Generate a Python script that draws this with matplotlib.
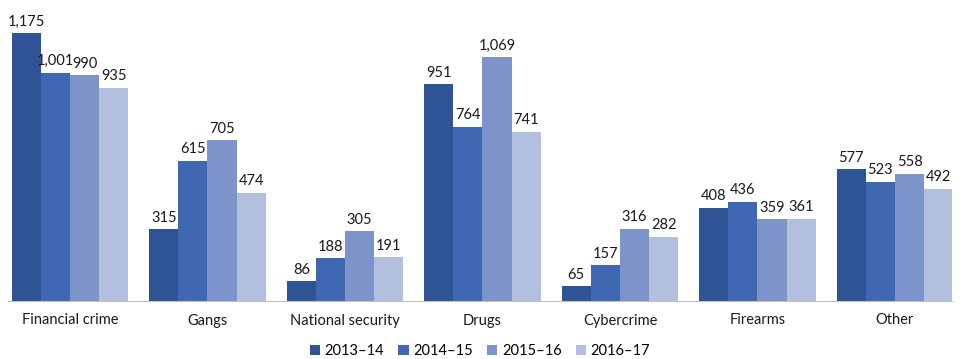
import numpy as np
import matplotlib
matplotlib.use('Agg')
import matplotlib.pyplot as plt

categories = ['Financial crime', 'Gangs', 'National security', 'Drugs',
              'Cybercrime', 'Firearms', 'Other']
years = ['2013–14', '2014–15', '2015–16', '2016–17']
v_2013 = [1175, 315, 86, 951, 65, 408, 577]
v_2014 = [1001, 615, 188, 764, 157, 436, 523]
v_2015 = [990, 705, 305, 1069, 316, 359, 558]
v_2016 = [935, 474, 191, 741, 282, 361, 492]
series = [v_2013, v_2014, v_2015, v_2016]
colors = ['#2E5495', '#4068B2', '#7D94CB', '#B3BFDF']

plt.rcParams['font.family'] = ['Lato', 'DejaVu Sans']

fig = plt.figure(figsize=(9.6, 3.59), dpi=100)
ax = fig.add_axes([8 / 960, 58 / 359, 944 / 960, 301 / 359])

x = np.arange(len(categories))
w = 0.212
for i, (vals, c, lab) in enumerate(zip(series, colors, years)):
    pos = x + (i - 1.5) * w
    ax.bar(pos, vals, width=w, color=c, label=lab)
    for p, v in zip(pos, vals):
        ax.text(p, v + 20, f'{v:,}', ha='center', va='bottom', fontsize=10.5,
                color='#1a1a1a')

ax.set_xlim(-0.451, 6.415)
ax.set_ylim(0, 1320)
ax.set_yticks([])
ax.set_xticks(x)
ax.set_xticklabels(categories, fontsize=10.5, color='#1a1a1a')
ax.tick_params(axis='x', length=0, pad=9)
for s in ['top', 'right', 'left']:
    ax.spines[s].set_visible(False)
ax.spines['bottom'].set_color('#BFBFBF')

fig.legend(loc='center', bbox_to_anchor=(0.5, 8 / 359), ncol=4, frameon=False,
           fontsize=10.5, handlelength=0.7, handleheight=0.7, handletextpad=0.3,
           columnspacing=1.0)

fig.savefig('out.png', dpi=100)
